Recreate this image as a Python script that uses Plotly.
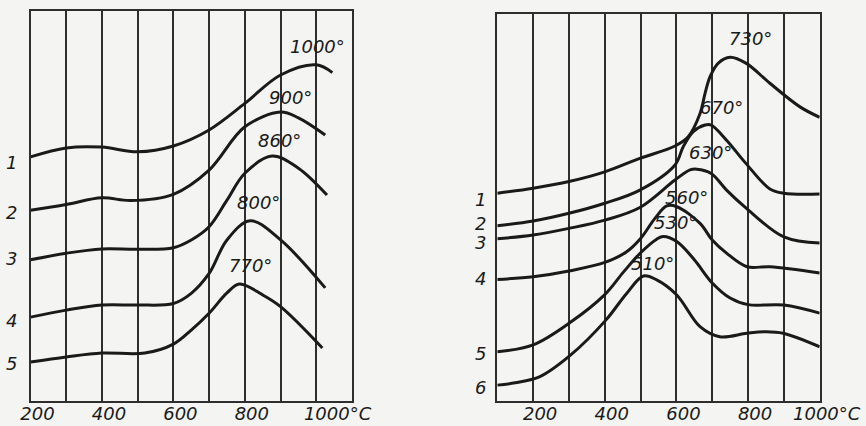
import plotly.graph_objects as go

# ---------------- data: left panel ----------
left_x1 = [200, 300, 400, 500, 600, 700, 800, 900, 1000, 1045]
left_y1 = [62.6, 64.9, 65.1, 63.9, 65.4, 69.5, 76.3, 83.6, 86.2, 84.2]
left_x2 = [200, 300, 400, 480, 600, 700, 800, 900, 950, 1025]
left_y2 = [48.9, 50.4, 52.1, 51.4, 53.0, 59.2, 70.3, 74.1, 72.6, 68.2]
left_x3 = [200, 300, 400, 500, 600, 650, 700, 750, 800, 876, 950, 1030]
left_y3 = [36.2, 37.9, 39.0, 38.9, 39.3, 41.3, 44.7, 51.5, 58.4, 62.8, 59.7, 52.8]
left_x4 = [200, 300, 400, 500, 600, 650, 700, 750, 815, 900, 1025]
left_y4 = [21.5, 23.3, 24.6, 24.6, 25.0, 27.6, 32.7, 41.3, 46.2, 41.3, 29.0]
left_x5 = [200, 300, 400, 520, 600, 650, 700, 750, 785, 850, 900, 1017]
left_y5 = [10.0, 11.3, 12.3, 12.3, 14.6, 18.2, 22.5, 27.7, 30.0, 27.2, 24.2, 13.6]

left_numbers = ["1", "2", "3", "4", "5"]
left_peak_labels = ["1000°", "900°", "860°", "800°", "770°"]

# ---------------- data: right panel ----------
right_x1 = [100, 200, 300, 400, 498, 596, 633, 666, 680, 694, 717, 750, 794, 861, 945, 1000]
right_y1 = [53.7, 55.0, 56.7, 59.2, 62.7, 65.9, 68.3, 74.3, 79.5, 83.8, 87.3, 88.8, 87.3, 82.1, 76.0, 73.3]
right_x2 = [100, 200, 300, 400, 498, 596, 619, 647, 680, 697, 740, 794, 861, 900, 1000]
right_y2 = [45.3, 46.5, 48.5, 51.1, 54.5, 61.0, 65.7, 69.6, 71.3, 71.3, 67.4, 61.4, 54.8, 53.7, 53.5]
right_x3 = [100, 200, 300, 403, 498, 596, 638, 657, 697, 740, 794, 900, 1000]
right_y3 = [41.9, 42.9, 44.6, 46.8, 50.0, 57.1, 59.7, 59.9, 58.8, 54.5, 49.9, 42.4, 40.8]
right_x4 = [100, 200, 300, 400, 460, 500, 540, 573, 601, 666, 700, 740, 797, 861, 1000]
right_y4 = [31.4, 32.1, 33.6, 35.8, 38.5, 42.0, 47.2, 50.4, 50.2, 45.9, 41.6, 38.2, 34.7, 34.7, 33.1]
right_x5 = [100, 200, 305, 400, 452, 500, 545, 563, 601, 650, 700, 750, 800, 900, 1000]
right_y5 = [12.7, 14.5, 20.4, 27.5, 33.3, 38.3, 41.8, 42.5, 41.2, 36.5, 30.5, 26.6, 24.9, 24.8, 22.7]
right_x6 = [100, 150, 219, 305, 403, 461, 508, 545, 601, 666, 721, 797, 851, 898, 1000]
right_y6 = [4.1, 4.7, 6.3, 11.9, 20.9, 27.8, 32.3, 31.3, 27.4, 19.2, 16.6, 17.5, 17.9, 17.5, 14.0]

right_numbers = ["1", "2", "3", "4", "5", "6"]
right_peak_labels = ["730°", "670°", "630°", "560°", "530°", "510°"]

left_ticks = [200, 300, 400, 500, 600, 700, 800, 900, 1000, 1100]
left_ticktext = ["200", "", "400", "", "600", "", "800", "", "\u00a0" * 5 + "1000°C", ""]
right_ticks = [100, 200, 300, 400, 500, 600, 700, 800, 900, 1000]
right_ticktext = ["", "200", "", "400", "", "600", "", "800", "", "1000°C"]

# label offsets in pixels (peak labels relative to each curve maximum,
# curve numbers relative to each curve start)
left_label_dx = [1, 10, 8, 8, 11]
left_label_dy = [18, 15, 16, 18, 19]
right_label_dx = [20, 16, 14, 20, 12, 9]
right_label_dy = [19, 18, 17, 8, 14, 13]
left_num_dy = [-6, -2, 1, -3, -1]
right_num_dy = [-6, 2, -4, 1, -2, -2]

# ---------------- styling ----------
INK = "#1a1a1a"
GRID = "#2e2e2e"
BG = "#f4f4f2"
FONT = "DejaVu Sans"

left_curves = [(left_x1, left_y1), (left_x2, left_y2), (left_x3, left_y3),
               (left_x4, left_y4), (left_x5, left_y5)]
right_curves = [(right_x1, right_y1), (right_x2, right_y2), (right_x3, right_y3),
                (right_x4, right_y4), (right_x5, right_y5), (right_x6, right_y6)]

fig = go.Figure()
annotations = []


def add_panel(curves, labels, dxs, dys, numbers, num_dy, num_dx, xa, ya):
    for (xs, ys), lab, dx, dy, num, ndy in zip(curves, labels, dxs, dys, numbers, num_dy):
        fig.add_trace(go.Scatter(
            x=xs, y=ys, mode="lines", xaxis=xa, yaxis=ya,
            line=dict(color=INK, width=3, shape="spline", smoothing=1.0),
            showlegend=False, hoverinfo="skip"))
        i = max(range(len(ys)), key=lambda k: ys[k])
        annotations.append(dict(
            x=xs[i], y=ys[i], xref=xa, yref=ya, text=lab, showarrow=False,
            xshift=dx, yshift=dy, xanchor="center", yanchor="middle",
            font=dict(family=FONT, size=18, color=INK, style="italic")))
        annotations.append(dict(
            x=xs[0], y=ys[0], xref=xa, yref=ya, text=num, showarrow=False,
            xshift=num_dx, yshift=ndy, xanchor="center", yanchor="middle",
            font=dict(family=FONT, size=18, color=INK, style="italic")))


add_panel(left_curves, left_peak_labels, left_label_dx, left_label_dy,
          left_numbers, left_num_dy, -19, "x", "y")
add_panel(right_curves, right_peak_labels, right_label_dx, right_label_dy,
          right_numbers, right_num_dy, -17, "x2", "y2")

W, H = 866, 426
tickfont = dict(family=FONT, size=18, color=INK, style="italic")

common_x = dict(showgrid=True, gridcolor=GRID, gridwidth=1.5, zeroline=False,
                showline=True, mirror=True, linecolor=GRID, linewidth=1.5,
                ticks="", tickmode="array", tickfont=tickfont,
                ticklabelshift=7, ticklabelstandoff=-4, ticklabeloverflow="allow",
                automargin=False, fixedrange=True)
common_y = dict(showgrid=False, zeroline=False, showline=True, mirror=True,
                linecolor=GRID, linewidth=1.5, ticks="", showticklabels=False,
                range=[0, 100], automargin=False, fixedrange=True)

fig.update_layout(
    width=W, height=H, template="none",
    margin=dict(l=0, r=0, t=0, b=0),
    paper_bgcolor=BG, plot_bgcolor=BG,
    showlegend=False,
    xaxis=dict(common_x, domain=[30.5 / W, 352 / W], range=[200, 1100],
               tickvals=left_ticks, ticktext=left_ticktext, anchor="y"),
    yaxis=dict(common_y, domain=[1 - 401 / H, 1 - 11 / H], anchor="x"),
    xaxis2=dict(common_x, domain=[497.3 / W, 819.7 / W], range=[100, 1000],
                tickvals=right_ticks, ticktext=right_ticktext, anchor="y2"),
    yaxis2=dict(common_y, domain=[1 - 401 / H, 1 - 14 / H], anchor="x2"),
    annotations=annotations,
)

fig.write_html("out.html")
